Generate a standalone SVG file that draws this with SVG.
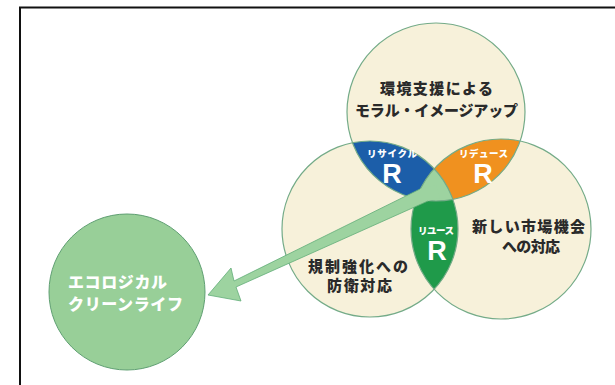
<svg xmlns="http://www.w3.org/2000/svg" width="615" height="385" viewBox="0 0 615 385">
<style>
.venn{fill:#f7f1da}
.ring{fill:none;stroke:#74ab88;stroke-width:1.2}
.jp{font-family:"Noto Sans CJK JP","Noto Sans",sans-serif;font-weight:900;text-anchor:middle}
.dark{fill:#2a2a2a;font-size:15px}
.wlab{fill:#ffffff;font-size:9.5px}
.bigR{font-family:"Liberation Sans",Arial,sans-serif;font-weight:bold;font-size:27px;fill:#ffffff;text-anchor:middle}
.eco{font-family:"Noto Sans CJK JP","Noto Sans",sans-serif;font-weight:900;font-size:16px;fill:#ffffff}
</style>
<defs>
<clipPath id="cT"><circle cx="436" cy="112" r="89"/></clipPath>
<clipPath id="cL"><circle cx="370" cy="229" r="88"/></clipPath>
<clipPath id="cR"><circle cx="501" cy="229" r="90"/></clipPath>
</defs>
<rect width="615" height="385" fill="#ffffff"/>
<path d="M20,385 V7.5 H615" fill="none" stroke="#111111" stroke-width="2"/>

<g id="node-eco">
<circle cx="127" cy="292" r="78" fill="#98cf98" stroke="#5f9f72" stroke-width="1"/>
<text class="eco" x="68" y="288" textLength="99">エコロジカル</text>
<text class="eco" x="68" y="310" textLength="115">クリーンライフ</text>
</g>

<g id="node-top">
<circle class="venn" cx="436" cy="112" r="89"/>
</g>
<g id="node-left">
<circle class="venn" cx="370" cy="229" r="88"/>
</g>
<g id="node-right">
<circle class="venn" cx="501" cy="229" r="90"/>
</g>

<g id="lens-recycle">
<circle cx="370" cy="229" r="88" fill="#1c5ea9" clip-path="url(#cT)"/>
</g>
<g id="lens-reduce">
<circle cx="501" cy="229" r="90" fill="#f0911f" clip-path="url(#cT)"/>
</g>
<g id="lens-reuse">
<circle cx="501" cy="229" r="90" fill="#1f9a4a" clip-path="url(#cL)"/>
</g>
<g id="center" clip-path="url(#cL)">
<circle cx="501" cy="229" r="90" fill="#9dd3a0" clip-path="url(#cT)"/>
</g>

<g id="rings">
<circle class="ring" cx="436" cy="112" r="89"/>
<circle class="ring" cx="370" cy="229" r="88"/>
<circle class="ring" cx="501" cy="229" r="90"/>
</g>

<g id="connectors">
<path d="M436,185 L420,189 L234,281 L231,268 L208,295 L241,301 L236,287 L428,201 L440,198 Z" fill="#9dd3a0"/>
<path d="M420,189 L234,281 L231,268 L208,295 L241,301 L236,287 L428,201" fill="none" stroke="#62ad78" stroke-width="0.8"/>
</g>

<g id="labels-top">
<text class="jp dark" x="436.5" y="94" textLength="113">環境支援による</text>
<text class="jp dark" x="436.5" y="116" textLength="163">モラル・イメージアップ</text>
</g>
<g id="labels-left">
<text class="jp dark" x="358" y="272" textLength="100">規制強化への</text>
<text class="jp dark" x="359.5" y="291" textLength="65">防衛対応</text>
</g>
<g id="labels-right">
<text class="jp dark" x="528.5" y="232" textLength="113">新しい市場機会</text>
<text class="jp dark" x="531" y="252" textLength="58">への対応</text>
</g>
<g id="labels-lens">
<text class="jp wlab" x="392" y="157" textLength="50">リサイクル</text>
<text class="bigR" x="392" y="183">R</text>
<text class="jp wlab" x="483.5" y="157" textLength="49">リデュース</text>
<text class="bigR" x="483" y="183">R</text>
<text class="jp wlab" x="436" y="234" textLength="36">リユース</text>
<text class="bigR" x="437" y="260">R</text>
</g>
</svg>
